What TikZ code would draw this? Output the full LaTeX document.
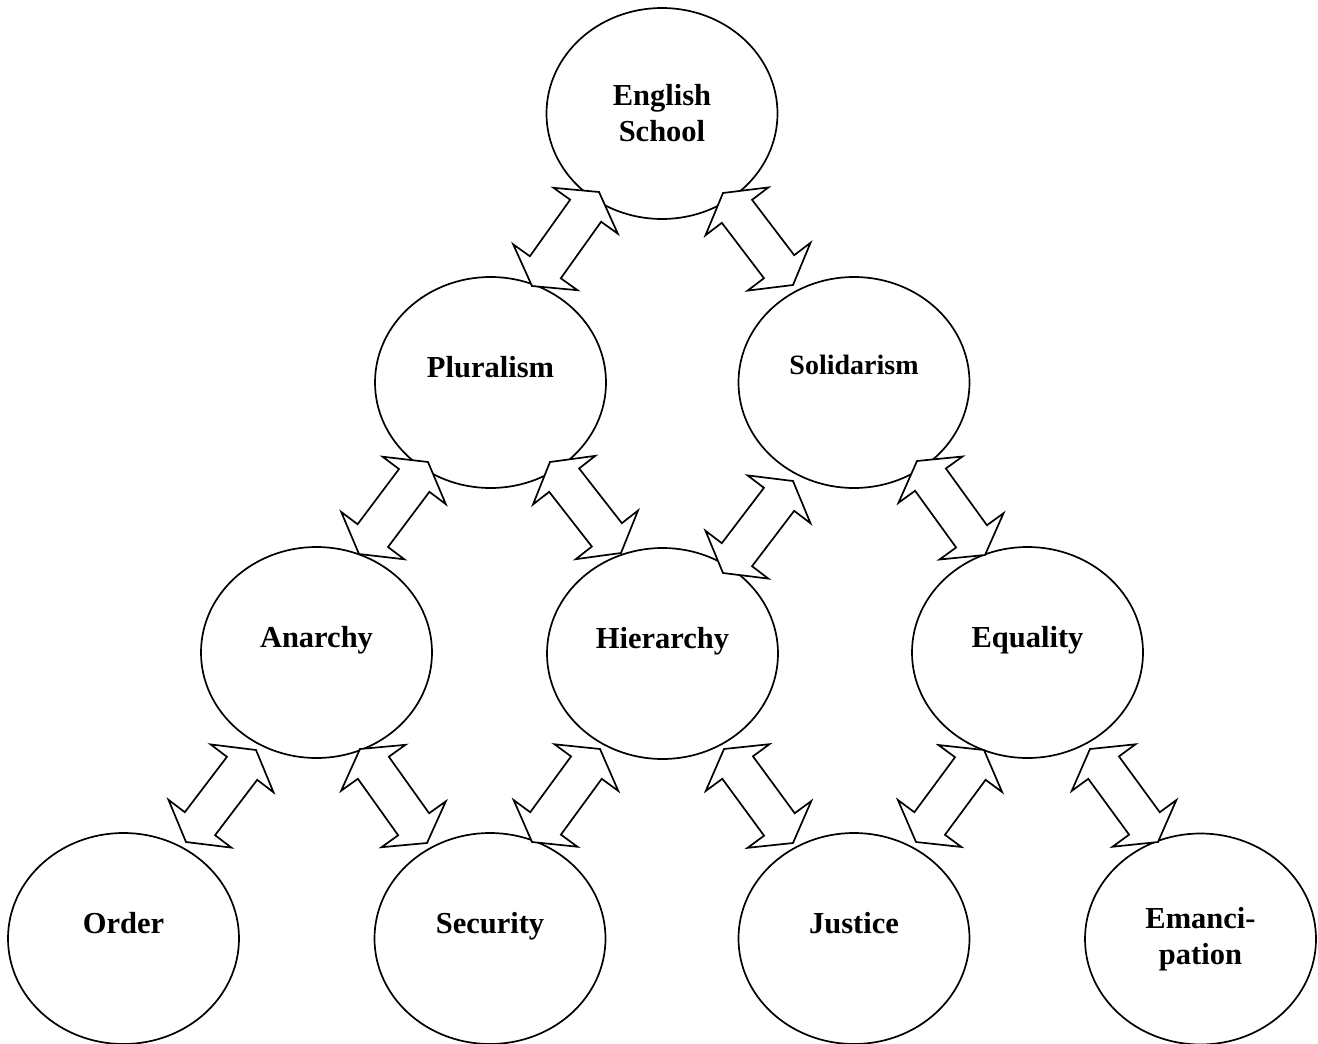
\documentclass[tikz,border=0pt]{standalone}
\usepackage{fontspec}
\setmainfont{Liberation Serif}
\usetikzlibrary{shapes.geometric,calc}
\newcommand\rtxt[2][5pt]{\raisebox{#1}[0pt][0pt]{#2}}
\newcommand\dblarrow[2]{%
 \draw[arr] let \p1=(#1), \p2=(#2), \n1={atan2(\y2-\y1,\x2-\x1)}, \n2={veclen(\x2-\x1,\y2-\y1)-23} in
 (\p1) -- ($(\p1)+(\n1:23pt)+(\n1+90:39.5pt)$)
 -- ($(\p1)+(\n1:23pt)+(\n1+90:19pt)$)
 -- ($(\p1)+(\n1:\n2)+(\n1+90:19pt)$)
 -- ($(\p1)+(\n1:\n2)+(\n1+90:39.5pt)$)
 -- (\p2)
 -- ($(\p1)+(\n1:\n2)+(\n1-90:39.5pt)$)
 -- ($(\p1)+(\n1:\n2)+(\n1-90:19pt)$)
 -- ($(\p1)+(\n1:23pt)+(\n1-90:19pt)$)
 -- ($(\p1)+(\n1:23pt)+(\n1-90:39.5pt)$) -- cycle;}
\begin{document}
\begin{tikzpicture}[x=1pt,y=-1pt,
 ell/.style={draw, line width=1.7pt, ellipse, fill=white, minimum width=231pt, minimum height=211pt,
   inner sep=0pt, font=\bfseries\fontsize{30.5}{36}\selectfont, align=center},
 arr/.style={line width=1.7pt, draw, fill=white, line join=miter}]
\useasboundingbox (0,0) rectangle (1318,1044);
% concepts
\node[ell] (es)  at (662,113.5)    {English\\School};
\node[ell] (plu) at (490.5,382.5)  {\rtxt{Pluralism}};
\node[ell] (sol) at (854,382.5)    {\rtxt[8pt]{\fontsize{28}{34}\selectfont Solidarism}};
\node[ell] (ana) at (316.5,652.5)  {\rtxt{Anarchy}};
\node[ell] (hie) at (662.5,653.5)  {\rtxt{Hierarchy}};
\node[ell] (equ) at (1027.5,652.5) {\rtxt{Equality}};
\node[ell] (ord) at (123.5,938.5)  {\rtxt{Order}};
\node[ell] (sec) at (490,938.5)    {\rtxt{Security}};
\node[ell] (jus) at (854,938.5)    {\rtxt{Justice}};
\node[ell] (ema) at (1200.5,939)   {Emanci-\\pation};
% arrow end points
\coordinate (a1s)  at (532,286);  \coordinate (a1e)  at (599,192);
\coordinate (a2s)  at (793,285);  \coordinate (a2e)  at (723,193);
\coordinate (a3s)  at (359,554);  \coordinate (a3e)  at (428,462);
\coordinate (a4s)  at (621,553);  \coordinate (a4e)  at (550,462);
\coordinate (a5s)  at (723,573);  \coordinate (a5e)  at (793,481);
\coordinate (a6s)  at (985,555);  \coordinate (a6e)  at (917,461);
\coordinate (a7s)  at (186,842);  \coordinate (a7e)  at (256,750);
\coordinate (a8s)  at (427,843);  \coordinate (a8e)  at (360,749);
\coordinate (a9s)  at (532,842);  \coordinate (a9e)  at (600,749);
\coordinate (a10s) at (793,843);  \coordinate (a10e) at (724,749);
\coordinate (a11s) at (916,842);  \coordinate (a11e) at (984,750);
\coordinate (a12s) at (1158,842); \coordinate (a12e) at (1090,749);
% double block arrows
\dblarrow{a1s}{a1e}
\dblarrow{a2s}{a2e}
\dblarrow{a3s}{a3e}
\dblarrow{a4s}{a4e}
\dblarrow{a5s}{a5e}
\dblarrow{a6s}{a6e}
\dblarrow{a7s}{a7e}
\dblarrow{a8s}{a8e}
\dblarrow{a9s}{a9e}
\dblarrow{a10s}{a10e}
\dblarrow{a11s}{a11e}
\dblarrow{a12s}{a12e}
\end{tikzpicture}
\end{document}
